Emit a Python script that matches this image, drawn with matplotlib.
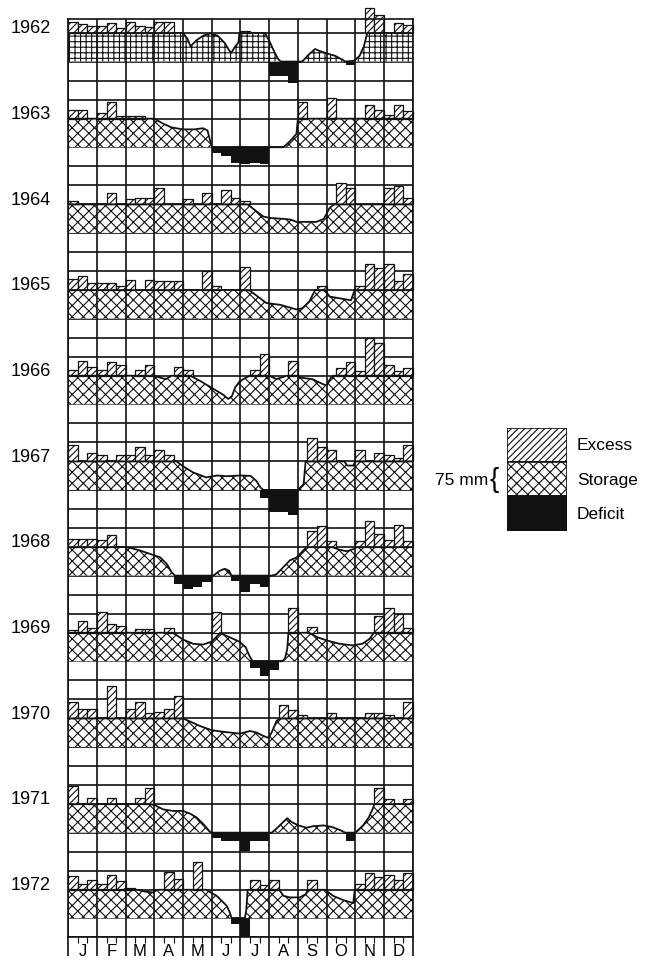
import numpy as np
import matplotlib.pyplot as plt
from matplotlib.patches import Rectangle
from matplotlib.transforms import blended_transform_factory

plt.rcParams['font.family'] = ['Liberation Sans', 'DejaVu Sans']
plt.rcParams['hatch.linewidth'] = 0.8

years = list(range(1962, 1973))
month_labels = ['J', 'F', 'M', 'A', 'M', 'J', 'J', 'A', 'S', 'O', 'N', 'D']
capacity = 75      # mm of soil storage
year_step = 225    # mm between the baselines of two years

# excess water per 10-day period (mm), 36 values a year
excess = [
    [29, 23, 18, 18, 26, 13, 29, 18, 16, 29, 29, 0, 0, 0, 0, 0, 0, 0, 6, 0, 0, 0, 0, 0, 0, 0, 0, 0, 0, 0, 0, 65, 47, 0, 26, 21],
    [23, 23, 0, 16, 44, 8, 8, 8, 0, 0, 0, 0, 0, 0, 0, 0, 0, 0, 0, 0, 0, 0, 0, 0, 44, 0, 0, 55, 0, 0, 0, 36, 23, 10, 36, 21],
    [10, 0, 0, 0, 29, 0, 13, 16, 16, 44, 0, 0, 13, 0, 29, 0, 39, 16, 10, 0, 0, 0, 0, 0, 0, 0, 0, 0, 57, 42, 0, 0, 0, 42, 47, 18],
    [29, 36, 18, 18, 18, 10, 26, 0, 26, 23, 23, 23, 0, 0, 49, 10, 0, 0, 60, 0, 0, 0, 0, 0, 0, 0, 10, 0, 0, 0, 10, 68, 57, 68, 23, 42],
    [16, 39, 23, 16, 36, 29, 0, 16, 29, 0, 0, 23, 16, 0, 0, 0, 0, 0, 0, 16, 57, 0, 0, 39, 0, 0, 0, 0, 21, 36, 13, 99, 86, 29, 13, 21],
    [42, 0, 21, 16, 0, 16, 16, 39, 16, 31, 16, 0, 0, 0, 0, 0, 0, 0, 0, 0, 0, 0, 0, 0, 0, 62, 39, 29, 0, 0, 31, 0, 21, 16, 10, 44],
    [22, 22, 22, 18, 31, 0, 0, 0, 0, 0, 0, 0, 0, 0, 0, 0, 0, 0, 0, 0, 0, 0, 0, 0, 0, 42, 55, 16, 0, 0, 16, 68, 34, 18, 57, 16],
    [8, 31, 13, 55, 23, 18, 0, 10, 10, 0, 13, 0, 0, 0, 0, 55, 0, 0, 0, 0, 0, 0, 0, 65, 0, 16, 0, 0, 0, 0, 0, 0, 44, 65, 49, 13],
    [44, 26, 26, 0, 86, 0, 26, 44, 13, 18, 26, 60, 0, 0, 0, 0, 0, 0, 0, 0, 0, 0, 34, 21, 10, 0, 0, 13, 0, 0, 0, 13, 13, 10, 0, 44],
    [47, 0, 16, 0, 16, 0, 0, 16, 42, 0, 0, 0, 0, 0, 0, 0, 0, 0, 0, 0, 0, 0, 0, 0, 0, 0, 0, 0, 0, 0, 0, 0, 42, 13, 0, 13],
    [36, 16, 26, 16, 39, 23, 5, 0, 0, 0, 47, 29, 0, 73, 0, 0, 0, 0, 0, 26, 13, 26, 0, 0, 0, 26, 0, 0, 0, 0, 16, 44, 34, 39, 26, 44],
]

# water deficit per 10-day period (mm)
deficit = [
    [0] * 21 + [39, 39, 55, 0, 0, 0, 0, 0, 8, 0, 0, 0, 0, 0, 0],
    [0] * 15 + [16, 23, 42, 44, 42, 44] + [0] * 15,
    [0] * 36,
    [0] * 36,
    [0] * 36,
    [0] * 20 + [21, 57, 57, 65] + [0] * 12,
    [0, 0, 0, 0, 0, 0, 0, 0, 0, 0, 0, 23, 36, 29, 18, 0, 0, 13, 44, 21, 29] + [0] * 15,
    [0] * 19 + [18, 39, 23] + [0] * 14,
    [0] * 36,
    [0] * 15 + [13, 23, 23, 49, 23, 23, 0, 0, 0, 0, 0, 0, 0, 0, 23] + [0] * 6,
    [0] * 17 + [16, 47] + [0] * 17,
]

# soil storage (month, mm)
storage = [
    [(0, 75), (4.0, 75), (4.15, 60), (4.26, 40), (4.45, 55), (4.7, 68), (4.95, 74), (5.2, 68), (5.45, 49),
     (5.6, 30), (5.68, 23), (5.8, 38), (5.93, 50), (5.96, 75), (6.85, 75), (7.0, 55), (7.15, 30), (7.3, 8),
     (7.4, 0), (8.15, 0), (8.4, 20), (8.6, 33), (8.75, 28), (8.95, 23), (9.3, 15), (9.55, 5), (9.65, 0),
     (9.95, 2), (10.15, 15), (10.3, 40), (10.4, 70), (10.42, 75), (12, 75)],
    [(0, 75), (3.0, 75), (3.3, 62), (3.6, 52), (4.0, 47), (4.4, 47), (4.7, 50), (4.85, 44), (4.95, 15),
     (5.0, 0), (7.5, 0), (7.75, 18), (7.95, 35), (8.0, 75), (12, 75)],
    [(0, 75), (6.25, 75), (6.5, 60), (6.8, 43), (7.05, 39), (7.5, 37), (7.75, 35), (7.95, 29), (8.65, 29),
     (8.9, 37), (9.0, 50), (9.1, 65), (9.25, 75), (12, 75)],
    [(0, 75), (6.3, 75), (6.6, 58), (6.9, 41), (7.4, 36), (7.95, 24), (8.15, 27), (8.4, 45), (8.6, 75),
     (8.95, 75), (9.1, 58), (9.4, 54), (9.85, 48), (9.98, 75), (12, 75)],
    [(0, 75), (3.0, 75), (3.2, 70), (3.4, 66), (3.6, 75), (4.25, 75), (4.6, 61), (5.0, 43), (5.4, 25),
     (5.57, 14), (5.7, 21), (5.82, 45), (5.98, 61), (6.2, 70), (6.33, 75), (7.0, 75), (7.25, 66), (7.5, 72),
     (7.6, 75), (8.0, 75), (8.1, 70), (8.5, 66), (8.9, 52), (9.0, 50), (9.15, 70), (9.25, 75), (12, 75)],
    [(0, 75), (3.77, 75), (4.0, 62), (4.35, 46), (4.8, 33), (5.2, 38), (5.5, 36), (6.0, 38), (6.35, 37),
     (6.55, 24), (6.7, 6), (6.8, 0), (8.0, 0), (8.2, 15), (8.27, 75), (9.62, 75), (9.72, 64), (9.93, 64),
     (10.0, 75), (12, 75)],
    [(0, 75), (2.0, 75), (2.15, 73), (2.5, 66), (2.85, 57), (3.2, 48), (3.43, 31), (3.6, 9), (3.72, 0),
     (5.05, 0), (5.28, 13), (5.45, 18), (5.6, 13), (5.69, 0), (7.1, 0), (7.26, 4), (7.49, 22), (7.72, 40),
     (7.96, 48), (8.19, 66), (8.3, 75), (9.2, 75), (9.45, 68), (9.7, 64), (9.95, 70), (10.05, 75), (12, 75)],
    [(0, 75), (3.65, 75), (4.0, 57), (4.35, 46), (4.7, 44), (5.0, 52), (5.16, 64), (5.3, 75), (5.35, 72),
     (5.6, 64), (5.95, 52), (6.18, 37), (6.3, 16), (6.42, 0), (7.45, 0), (7.55, 7), (7.63, 33), (7.67, 75),
     (8.4, 75), (8.65, 64), (9.0, 55), (9.45, 46), (9.9, 42), (10.25, 46), (10.5, 59), (10.65, 75), (12, 75)],
    [(0, 75), (4.0, 75), (4.24, 67), (4.59, 55), (5.0, 44), (5.4, 40), (5.98, 35), (6.33, 42), (6.56, 38),
     (6.8, 29), (6.97, 24), (7.08, 37), (7.26, 69), (7.38, 75), (12, 75)],
    [(0, 75), (2.85, 75), (3.02, 72), (3.31, 61), (3.66, 57), (4.0, 57), (4.24, 50), (4.47, 40), (4.7, 23),
     (4.93, 3), (5.0, 0), (7.09, 0), (7.26, 11), (7.49, 28), (7.63, 38), (7.78, 28), (8.02, 19), (8.3, 13),
     (8.54, 17), (8.89, 19), (9.18, 15), (9.47, 7), (9.65, 0), (10.0, 0), (10.27, 19), (10.47, 40),
     (10.6, 61), (10.67, 75), (12, 75)],
    [(0, 75), (2.4, 75), (2.7, 70), (2.95, 68), (3.1, 75), (4.8, 75), (5.17, 59), (5.52, 33), (5.63, 15),
     (5.69, 0), (6.15, 0), (6.2, 20), (6.25, 75), (7.35, 75), (7.5, 59), (7.72, 55), (8.07, 55), (8.28, 64),
     (8.35, 75), (8.95, 75), (9.23, 59), (9.58, 48), (9.93, 40), (9.98, 75), (12, 75)],
]

fig = plt.figure(figsize=(6.45, 9.62), dpi=100)
ax = fig.add_axes([0.1059, 0.02495, 0.5339, 0.95426])
ax.set_xlim(0, 12)
ax.set_ylim(-2299, 111.8)

dec = np.arange(36) / 3 + 1 / 6
lc = '#111111'
exc_hatch = '/////'
sto_hatch = 'xxx'

for i, yr in enumerate(years):
    base = -i * year_step
    for lvl in (capacity, 0, -50, -100):
        ax.axhline(base + lvl, color=lc, lw=1.2, zorder=1)

    pts = np.array(storage[i], dtype=float)
    hatch = '+++' if yr == 1962 else sto_hatch
    ax.fill_between(pts[:, 0], base, base + pts[:, 1], facecolor='white', edgecolor=lc,
                    hatch=hatch, linewidth=0, zorder=2)
    ax.plot(pts[:, 0], base + pts[:, 1], color=lc, lw=1.3, zorder=4)

    e = np.array(excess[i])
    m = e > 0
    ax.bar(dec[m], e[m], bottom=base + capacity, width=1 / 3, facecolor='white', edgecolor=lc,
           hatch=exc_hatch, lw=0.9, zorder=3, clip_on=False)

    d = np.array(deficit[i])
    m = d > 0
    ax.bar(dec[m], -d[m], bottom=base, width=1 / 3, color=lc, lw=0, zorder=3)

    ax.text(-0.6, base + capacity + 14, str(yr), ha='right', va='center', fontsize=13, clip_on=False)

for mo in range(13):
    ax.axvline(mo, color=lc, lw=1.2, zorder=5)

for s in ax.spines.values():
    s.set_linewidth(1.2)
    s.set_color(lc)
    s.set_zorder(6)

ax.set_xticks(range(13))
ax.set_xticks([k / 3 for k in range(37) if k % 3], minor=True)
ax.set_xticklabels([])
ax.set_yticks([])
ax.tick_params(axis='x', which='major', length=14, width=1.2, direction='out', color=lc)
ax.tick_params(axis='x', which='minor', length=4, width=0.8, direction='out', color=lc)

tr = blended_transform_factory(ax.transData, ax.transAxes)
for mo, lab in enumerate(month_labels):
    ax.text(mo + 0.5, -0.0145, lab, transform=tr, ha='center', va='center', fontsize=12)

# legend
lg = fig.add_axes([0.7856, 0.4473, 0.093, 0.1068])
lg.set_xlim(0, 1)
lg.set_ylim(0, 3)
lg.axis('off')
lg.add_patch(Rectangle((0, 2), 1, 1, facecolor='white', edgecolor=lc, hatch=exc_hatch, lw=1.2))
lg.add_patch(Rectangle((0, 1), 1, 1, facecolor='white', edgecolor=lc, hatch=sto_hatch, lw=1.2))
lg.add_patch(Rectangle((0, 0), 1, 1, facecolor=lc, edgecolor=lc, lw=1.2))

fig.text(0.8946, 0.5374, 'Excess', ha='left', va='center', fontsize=12.5)
fig.text(0.8946, 0.5000, 'Storage', ha='left', va='center', fontsize=12.5)
fig.text(0.8946, 0.4647, 'Deficit', ha='left', va='center', fontsize=12.5)
fig.text(0.757, 0.5000, '75 mm', ha='right', va='center', fontsize=12.5)
fig.text(0.7595, 0.5010, '{', ha='left', va='center', fontsize=20, fontweight='light')

fig.savefig('out.png', dpi=100)
